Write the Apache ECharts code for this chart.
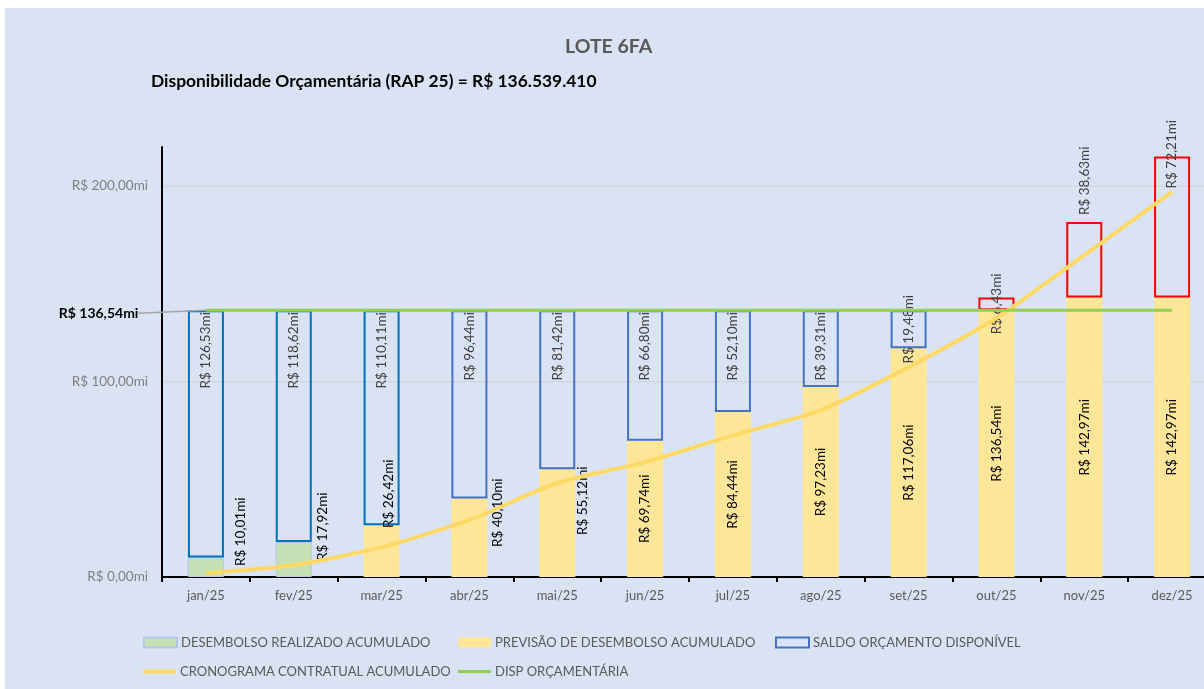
<!DOCTYPE html>
<html lang="pt-BR">
<head>
    <meta charset="UTF-8">
    <title>LOTE 6FA</title>
    <style>
        html, body { margin: 0; padding: 0; background: #ffffff; }
        #main { position: absolute; left: 5px; top: 8px; width: 1199px; height: 681px; background: #DAE3F3; }
    </style>
</head>
<body>
    <div id="main"></div>
    <script src="https://cdn.jsdelivr.net/npm/echarts@6/dist/echarts.min.js"></script>
    <script>
        // dados do gráfico (R$ milhões)
        var meses = ['jan/25', 'fev/25', 'mar/25', 'abr/25', 'mai/25', 'jun/25', 'jul/25', 'ago/25', 'set/25', 'out/25', 'nov/25', 'dez/25'];
        var realizado = [10.01, 17.92, '-', '-', '-', '-', '-', '-', '-', '-', '-', '-'];
        var previsao = ['-', '-', 26.42, 40.10, 55.12, 69.74, 84.44, 97.23, 117.06, 136.54, 142.97, 142.97];
        var saldo = [126.53, 118.62, 110.11, 96.44, 81.42, 66.80, 52.10, 39.31, 19.48, 6.43, 38.63, 72.21];
        var cronograma = [2.0, 6.1, 15.3, 29.2, 48.1, 58.8, 72.5, 85.4, 107.4, 132.5, 164.7, 197.0];
        var dispOrc = [136.54, 136.54, 136.54, 136.54, 136.54, 136.54, 136.54, 136.54, 136.54, 136.54, 136.54, 136.54];
        var yTicks = [0, 100, 200];

        var fonte = 'Lato, "Liberation Sans", sans-serif';

        function fmt(v) {
            return 'R$ ' + Number(v).toFixed(2).replace('.', ',') + 'mi';
        }

        // deslocamento dos rótulos fora da barra (jan..mai), no referencial do texto girado
        var deslocRotulo = [[6, 35], [11, 29], [44, 7], [25, 28], [37, 25]];

        function rotuloBase(i) {
            if (i < deslocRotulo.length) {
                return {
                    show: true, position: 'insideBottom', rotate: 90,
                    align: 'left', verticalAlign: 'middle',
                    offset: deslocRotulo[i]
                };
            }
            return { show: true, position: 'inside', rotate: 90, align: 'center', verticalAlign: 'middle' };
        }

        var dadosRealizado = realizado.map(function (v, i) {
            return v === '-' ? '-' : { value: v, label: rotuloBase(i) };
        });
        var dadosPrevisao = previsao.map(function (v, i) {
            return v === '-' ? '-' : { value: v, label: rotuloBase(i) };
        });

        var corBorda = ['#0070C0', '#0070C0', '#0070C0', '#4472C4', '#4472C4', '#4472C4', '#4472C4', '#4472C4', '#4472C4', '#FF0000', '#FF0000', '#FF0000'];
        var dadosSaldo = saldo.map(function (v, i) {
            var lb = { show: true, rotate: 90, position: 'insideTop', align: 'right', verticalAlign: 'middle', distance: 2 };
            if (i === 8 || i === 9) {
                lb = { show: true, rotate: 90, position: 'inside', align: 'center', verticalAlign: 'middle' };
            } else if (i === 10) {
                lb = { show: true, rotate: 90, position: 'top', align: 'left', verticalAlign: 'middle', distance: 7 };
            } else if (i === 11) {
                lb = { show: true, rotate: 90, position: 'insideTop', align: 'left', verticalAlign: 'middle', distance: 32 };
            }
            return { value: v, itemStyle: { borderColor: corBorda[i] }, label: lb };
        });

        var dadosDisp = dispOrc.map(function (v, i) {
            if (i === 0) {
                return {
                    value: v, symbol: 'circle', symbolSize: 1,
                    label: {
                        show: true, position: 'left', distance: 5,
                        fontWeight: 'bold', color: '#000000', fontSize: 14, fontFamily: fonte,
                        formatter: function (p) { return fmt(p.value); }
                    }
                };
            }
            return v;
        });

        function legenda(nome, esq, topo, alt) {
            return {
                left: esq, top: topo, padding: 0,
                itemWidth: 33, itemHeight: alt, itemGap: 5,
                icon: 'rect',
                textStyle: { color: '#595959', fontSize: 13, fontFamily: fonte, padding: [0, 0, 0, -1] },
                data: [nome]
            };
        }

        var myChart = echarts.init(document.getElementById('main'));

        var option = {
            backgroundColor: '#DAE3F3',
            textStyle: { fontFamily: fonte },
            title: [
                {
                    text: 'LOTE 6FA', left: 560, top: 29, padding: 0,
                    textStyle: { fontSize: 19.5, fontWeight: 'bold', color: '#595959', fontFamily: fonte }
                },
                {
                    text: 'Disponibilidade Orçamentária (RAP 25) = R$ 136.539.410', left: 146, top: 65, padding: 0,
                    textStyle: { fontSize: 17.4, fontWeight: 'bold', color: '#000000', fontFamily: fonte }
                }
            ],
            legend: [
                legenda('DESEMBOLSO REALIZADO ACUMULADO', 138, 628, 10),
                legenda('PREVISÃO DE DESEMBOLSO ACUMULADO', 453, 628, 10),
                legenda('SALDO ORÇAMENTO DISPONÍVEL', 770, 628, 10),
                legenda('CRONOGRAMA CONTRATUAL ACUMULADO', 138, 657, 4),
                legenda('DISP ORÇAMENTÁRIA', 453, 657, 3)
            ],
            grid: { left: 157, top: 139, width: 1054, height: 430, outerBoundsMode: 'none' },
            xAxis: {
                type: 'category',
                data: meses,
                axisLine: { lineStyle: { color: '#000000', width: 2 } },
                axisTick: { show: true, length: 5, lineStyle: { color: '#000000', width: 2 } },
                axisLabel: { color: '#595959', fontSize: 13, margin: 12, fontFamily: fonte }
            },
            yAxis: {
                type: 'value',
                min: 0, max: 220, interval: 100,
                axisLine: { show: true, lineStyle: { color: '#000000', width: 2 } },
                axisTick: { show: false },
                axisLabel: {
                    color: '#7F7F7F', fontSize: 13.5, margin: 14, fontFamily: fonte,
                    customValues: yTicks,
                    formatter: function (v) { return fmt(v); }
                },
                splitLine: { show: true, showMinLine: false, showMaxLine: false, lineStyle: { color: '#D0D3D6', width: 1 } }
            },
            series: [
                {
                    name: 'DESEMBOLSO REALIZADO ACUMULADO',
                    type: 'bar', stack: 'total', barWidth: 36,
                    itemStyle: { color: '#C5E0B4', borderColor: '#B4C7E7', borderWidth: 1 },
                    label: { color: '#000000', fontSize: 13.5, fontFamily: fonte, formatter: function (p) { return fmt(p.value); } },
                    data: dadosRealizado
                },
                {
                    name: 'PREVISÃO DE DESEMBOLSO ACUMULADO',
                    type: 'bar', stack: 'total', barWidth: 36,
                    itemStyle: { color: '#FFE699' },
                    label: { color: '#000000', fontSize: 13.5, fontFamily: fonte, formatter: function (p) { return fmt(p.value); } },
                    data: dadosPrevisao
                },
                {
                    name: 'SALDO ORÇAMENTO DISPONÍVEL',
                    type: 'bar', stack: 'total', barWidth: 36,
                    itemStyle: { color: 'rgba(0,0,0,0)', borderColor: '#4472C4', borderWidth: 2 },
                    label: { color: '#404040', fontSize: 13.5, fontFamily: fonte, formatter: function (p) { return fmt(p.value); } },
                    data: dadosSaldo
                },
                {
                    name: 'CRONOGRAMA CONTRATUAL ACUMULADO',
                    type: 'line', smooth: 0.25, symbol: 'none',
                    lineStyle: { color: '#FFD966', width: 4 },
                    itemStyle: { color: '#FFD966' },
                    data: cronograma
                },
                {
                    name: 'DISP ORÇAMENTÁRIA',
                    type: 'line', symbol: 'none',
                    lineStyle: { color: '#92D050', width: 3 },
                    itemStyle: { color: '#92D050' },
                    labelLine: { show: true, lineStyle: { color: '#A6A6A6', width: 1.5 } },
                    labelLayout: function (p) {
                        return p.dataIndex === 0 ? { dx: -62, dy: 3 } : {};
                    },
                    data: dadosDisp
                }
            ]
        };

        myChart.setOption(option);
    </script>
</body>
</html>
